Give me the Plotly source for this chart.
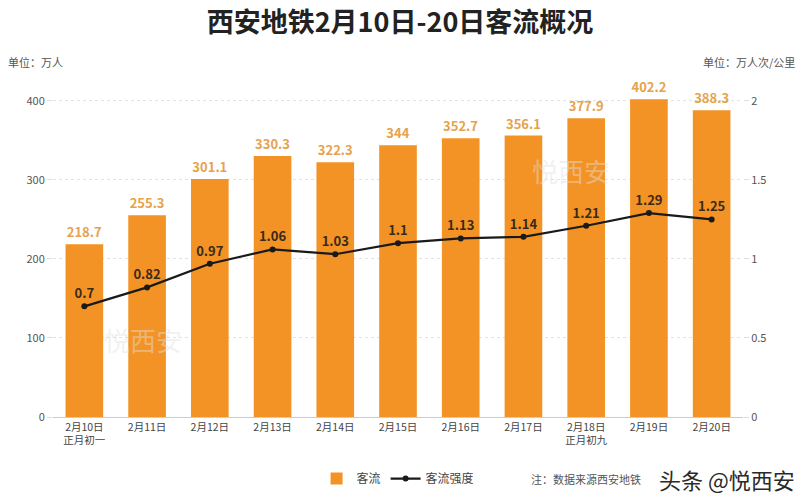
import plotly.graph_objects as go

categories = ["2月10日<br>正月初一", "2月11日", "2月12日", "2月13日", "2月14日", "2月15日",
              "2月16日", "2月17日", "2月18日<br>正月初九", "2月19日", "2月20日"]
flow = [218.7, 255.3, 301.1, 330.3, 322.3, 344, 352.7, 356.1, 377.9, 402.2, 388.3]
intensity = [0.7, 0.82, 0.97, 1.06, 1.03, 1.1, 1.13, 1.14, 1.21, 1.29, 1.25]
left_ticks = [0, 100, 200, 300, 400]
right_ticks = [0, 0.5, 1, 1.5, 2]
right_tick_text = ["0", "0.5", "1", "1.5", "2"]

FONT = "Noto Sans CJK SC"
ORANGE = "#F39325"

fig = go.Figure()
fig.add_trace(go.Bar(
    x=categories, y=flow, name="客流", marker=dict(color=ORANGE, line=dict(width=0)),
    text=[f"<b>{v:g}</b>" for v in flow], textposition="outside", cliponaxis=False,
    textfont=dict(color="#E6A24C", size=13, family=FONT),
))
fig.add_trace(go.Scatter(
    x=categories, y=intensity, name="客流强度", yaxis="y2", mode="lines+markers+text",
    line=dict(color="#1a1a1a", width=2.2), marker=dict(color="#1a1a1a", size=6),
    text=[f"<b>{v:g}</b>" for v in intensity], textposition="top center", cliponaxis=False,
    textfont=dict(color="#3a2a1a", size=13, family=FONT),
))

fig.update_layout(
    width=800, height=500,
    margin=dict(l=53, r=57, t=93, b=83, autoexpand=False),
    paper_bgcolor="white", plot_bgcolor="white",
    font=dict(family=FONT, color="#555"),
    bargap=0.4,
    showlegend=True,
    legend=dict(orientation="h", x=0.382, y=-0.19, xanchor="left", yanchor="middle",
                font=dict(size=12, color="#444"), itemwidth=30, traceorder="normal",
                tracegroupgap=0),
    title=dict(text="<b>西安地铁2月10日-20日客流概况</b>", x=0.5, xanchor="center",
               y=0.955, yanchor="middle", font=dict(size=27, color="#222", family=FONT)),
    xaxis=dict(range=[-0.5, len(categories) - 0.5], showgrid=False, showline=True,
               linecolor="#ccc", ticks="", tickfont=dict(size=10.5, color="#444"),
               fixedrange=True),
    yaxis=dict(range=[0, 410], tickvals=left_ticks, showgrid=True, gridcolor="#e2e2e2",
               griddash="dot", zeroline=False, tickfont=dict(size=11, color="#555"),
               ticks="outside", ticklen=5, tickcolor="#ddd"),
    yaxis2=dict(range=[0, 2.05], overlaying="y", side="right", tickvals=right_ticks,
                ticktext=right_tick_text, showgrid=False, zeroline=False,
                tickfont=dict(size=11, color="#555"), ticks="outside", ticklen=5,
                tickcolor="#ddd"),
    annotations=[
        dict(text="单位：万人", xref="paper", yref="paper", x=-0.068, y=1.096, xanchor="left",
             yanchor="middle", showarrow=False, font=dict(size=11, color="#555")),
        dict(text="单位：万人次/公里", xref="paper", yref="paper", x=1.078, y=1.096, xanchor="right",
             yanchor="middle", showarrow=False, font=dict(size=11, color="#555")),
        dict(text="注：数据来源西安地铁", xref="paper", yref="paper", x=0.69, y=-0.19,
             xanchor="left", yanchor="middle", showarrow=False,
             font=dict(size=11, color="#555")),
        dict(text="头条 @悦西安", xref="paper", yref="paper", x=1.078, y=-0.19,
             xanchor="right", yanchor="middle", showarrow=False,
             font=dict(size=22, color="#2a2a2a")),
        dict(text="悦西安", xref="paper", yref="paper", x=0.13, y=0.24, xanchor="center",
             yanchor="middle", showarrow=False, font=dict(size=26, color="rgba(225,225,225,0.45)")),
        dict(text="悦西安", xref="paper", yref="paper", x=0.75, y=0.76, xanchor="center",
             yanchor="middle", showarrow=False, font=dict(size=26, color="rgba(225,225,225,0.45)")),
    ],
)

fig.write_html("out.html", config={"displayModeBar": False},
               post_script="document.body.style.margin='0';document.body.style.overflow='hidden';")
